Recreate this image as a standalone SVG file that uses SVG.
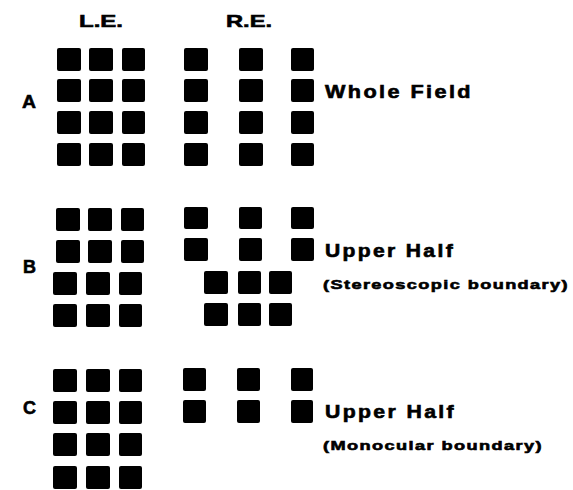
<svg xmlns="http://www.w3.org/2000/svg" width="573" height="490" viewBox="0 0 573 490">
<style>
.sq{fill:#000}
.t{font-family:"Liberation Sans",Arial,sans-serif;font-weight:bold;fill:#000;stroke:#000;stroke-width:0.6}
.big{font-size:18px;letter-spacing:2px}
.hd{font-size:17px}
.sm{font-size:13px;letter-spacing:1px}
.lb{font-size:19px}
</style>
<rect width="573" height="490" fill="#fff"/>
<g id="headers">
<text class="t hd" x="79" y="27" textLength="44" lengthAdjust="spacingAndGlyphs">L.E.</text>
<text class="t hd" x="226" y="27" textLength="46" lengthAdjust="spacingAndGlyphs">R.E.</text>
</g>
<g id="sectionA">
<text class="t lb" x="22" y="108" textLength="14" lengthAdjust="spacingAndGlyphs">A</text>
<g id="A-LE">
<rect class="sq" x="57" y="48" width="24" height="23" rx="2"/><rect class="sq" x="89" y="48" width="24" height="23" rx="2"/><rect class="sq" x="122" y="48" width="23" height="23" rx="2"/>
<rect class="sq" x="57" y="79" width="24" height="23" rx="2"/><rect class="sq" x="89" y="79" width="24" height="23" rx="2"/><rect class="sq" x="122" y="79" width="23" height="23" rx="2"/>
<rect class="sq" x="57" y="111" width="24" height="23" rx="2"/><rect class="sq" x="89" y="111" width="24" height="23" rx="2"/><rect class="sq" x="122" y="111" width="23" height="23" rx="2"/>
<rect class="sq" x="57" y="143" width="24" height="23" rx="2"/><rect class="sq" x="89" y="143" width="24" height="23" rx="2"/><rect class="sq" x="122" y="143" width="23" height="23" rx="2"/>
</g>
<g id="A-RE">
<rect class="sq" x="184" y="48" width="24" height="23" rx="2"/><rect class="sq" x="239" y="48" width="24" height="23" rx="2"/><rect class="sq" x="291" y="48" width="23" height="23" rx="2"/>
<rect class="sq" x="184" y="79" width="24" height="23" rx="2"/><rect class="sq" x="239" y="79" width="24" height="23" rx="2"/><rect class="sq" x="291" y="79" width="23" height="23" rx="2"/>
<rect class="sq" x="184" y="111" width="24" height="23" rx="2"/><rect class="sq" x="239" y="111" width="24" height="23" rx="2"/><rect class="sq" x="291" y="111" width="23" height="23" rx="2"/>
<rect class="sq" x="184" y="143" width="24" height="23" rx="2"/><rect class="sq" x="239" y="143" width="24" height="23" rx="2"/><rect class="sq" x="291" y="143" width="23" height="23" rx="2"/>
</g>
<text class="t big" x="325" y="98" textLength="148" lengthAdjust="spacingAndGlyphs">Whole Field</text>
</g>
<g id="sectionB">
<text class="t lb" x="23" y="273" textLength="13" lengthAdjust="spacingAndGlyphs">B</text>
<g id="B-LE">
<rect class="sq" x="56" y="208" width="24" height="23" rx="2"/><rect class="sq" x="88" y="208" width="24" height="23" rx="2"/><rect class="sq" x="121" y="208" width="23" height="23" rx="2"/>
<rect class="sq" x="56" y="240" width="24" height="23" rx="2"/><rect class="sq" x="88" y="240" width="24" height="23" rx="2"/><rect class="sq" x="121" y="240" width="23" height="23" rx="2"/>
<rect class="sq" x="53" y="272" width="24" height="23" rx="2"/><rect class="sq" x="86" y="272" width="24" height="23" rx="2"/><rect class="sq" x="119" y="272" width="23" height="23" rx="2"/>
<rect class="sq" x="53" y="304" width="24" height="23" rx="2"/><rect class="sq" x="86" y="304" width="24" height="23" rx="2"/><rect class="sq" x="119" y="304" width="23" height="23" rx="2"/>
</g>
<g id="B-RE">
<rect class="sq" x="184" y="207" width="24" height="22" rx="2"/><rect class="sq" x="239" y="207" width="23" height="22" rx="2"/><rect class="sq" x="291" y="207" width="23" height="22" rx="2"/>
<rect class="sq" x="184" y="238" width="24" height="23" rx="2"/><rect class="sq" x="239" y="238" width="23" height="23" rx="2"/><rect class="sq" x="291" y="238" width="23" height="23" rx="2"/>
<rect class="sq" x="204" y="271" width="24" height="23" rx="2"/><rect class="sq" x="238" y="271" width="23" height="23" rx="2"/><rect class="sq" x="269" y="271" width="23" height="23" rx="2"/>
<rect class="sq" x="204" y="303" width="24" height="23" rx="2"/><rect class="sq" x="238" y="303" width="23" height="23" rx="2"/><rect class="sq" x="269" y="303" width="23" height="23" rx="2"/>
</g>
<text class="t big" x="325" y="257" textLength="130" lengthAdjust="spacingAndGlyphs">Upper Half</text>
<text class="t sm" x="323" y="289" textLength="246" lengthAdjust="spacingAndGlyphs">(Stereoscopic boundary)</text>
</g>
<g id="sectionC">
<text class="t lb" x="23" y="414" textLength="13" lengthAdjust="spacingAndGlyphs">C</text>
<g id="C-LE">
<rect class="sq" x="53" y="369" width="24" height="23" rx="2"/><rect class="sq" x="86" y="369" width="24" height="23" rx="2"/><rect class="sq" x="119" y="369" width="23" height="23" rx="2"/>
<rect class="sq" x="53" y="401" width="24" height="23" rx="2"/><rect class="sq" x="86" y="401" width="24" height="23" rx="2"/><rect class="sq" x="119" y="401" width="23" height="23" rx="2"/>
<rect class="sq" x="53" y="433" width="24" height="23" rx="2"/><rect class="sq" x="86" y="433" width="24" height="23" rx="2"/><rect class="sq" x="119" y="433" width="23" height="23" rx="2"/>
<rect class="sq" x="53" y="466" width="24" height="23" rx="2"/><rect class="sq" x="86" y="466" width="24" height="23" rx="2"/><rect class="sq" x="119" y="466" width="23" height="23" rx="2"/>
</g>
<g id="C-RE">
<rect class="sq" x="183" y="368" width="23" height="23" rx="2"/><rect class="sq" x="237" y="368" width="23" height="23" rx="2"/><rect class="sq" x="291" y="368" width="22" height="23" rx="2"/>
<rect class="sq" x="183" y="400" width="23" height="23" rx="2"/><rect class="sq" x="237" y="400" width="23" height="23" rx="2"/><rect class="sq" x="291" y="400" width="22" height="23" rx="2"/>
</g>
<text class="t big" x="325" y="418" textLength="131" lengthAdjust="spacingAndGlyphs">Upper Half</text>
<text class="t sm" x="323" y="450" textLength="220" lengthAdjust="spacingAndGlyphs">(Monocular boundary)</text>
</g>
</svg>
